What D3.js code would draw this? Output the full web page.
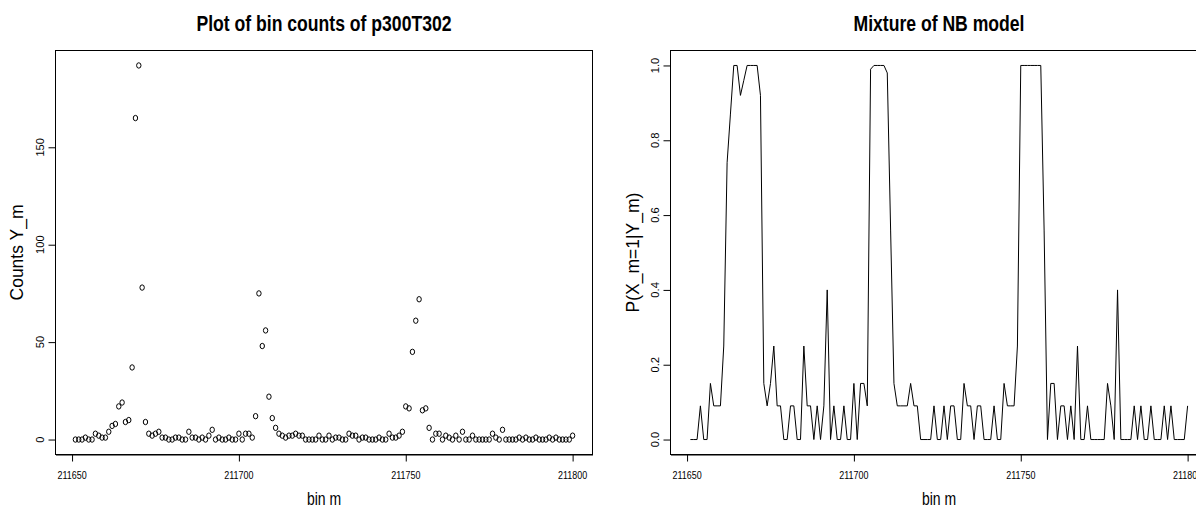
<!DOCTYPE html>
<html>
<head>
<meta charset="utf-8">
<script src="https://cdn.jsdelivr.net/npm/d3@7"></script>
<style>
  html, body { margin: 0; padding: 0; background: #fff; }
  svg { display: block; }
  text { font-family: "Liberation Sans", Arial, Helvetica, sans-serif; fill: #000; }
</style>
</head>
<body>
<svg id="chart" width="1196" height="507"></svg>
<script>
// ---------------- data ----------------
const binStart = 211651;            // first bin m
const xTicks = [211650, 211700, 211750, 211800];
const countTicks = [0, 50, 100, 150];
const probTicks = [0.0, 0.2, 0.4, 0.6, 0.8, 1.0];
const leftTitle = "Plot of bin counts of p300T302";
const rightTitle = "Mixture of NB model";
const xLabel = "bin m";
const leftYLabel = "Counts Y_m";
const rightYLabel = "P(X_m=1|Y_m)";

// bin counts Y_m (bins 211651 .. 211800)
const counts = [
  0, 0, 0, 1, 0, 0, 3, 2, 1, 1,
  4, 7, 8, 17, 19, 9, 10, 37, 165, 192,
  78, 9, 3, 2, 3, 4, 1, 1, 0, 0,
  1, 1, 0, 0, 4, 1, 1, 0, 1, 0,
  2, 5, 0, 1, 0, 0, 1, 0, 0, 3,
  0, 3, 3, 1, 12, 75, 48, 56, 22, 11,
  6, 3, 2, 1, 2, 2, 3, 2, 2, 0,
  0, 0, 0, 2, 0, 0, 2, 0, 1, 1,
  0, 0, 3, 2, 2, 0, 1, 1, 0, 0,
  0, 1, 0, 0, 3, 1, 1, 2, 4, 17,
  16, 45, 61, 72, 15, 16, 6, 0, 3, 3,
  0, 2, 1, 0, 2, 0, 4, 0, 0, 2,
  0, 0, 0, 0, 0, 3, 1, 0, 5, 0,
  0, 0, 0, 1, 0, 1, 0, 0, 1, 0,
  0, 0, 1, 0, 1, 0, 0, 0, 0, 2
];

// posterior P(X_m=1|Y_m) (bins 211651 .. 211800)
const posterior = [
  0, 0, 0, 0.09, 0, 0, 0.15, 0.09, 0.09, 0.09,
  0.25, 0.74, 0.87, 1, 1, 0.92, 0.96, 1, 1, 1,
  1, 0.92, 0.15, 0.09, 0.15, 0.25, 0.09, 0.09, 0, 0,
  0.09, 0.09, 0, 0, 0.25, 0.09, 0.09, 0, 0.09, 0,
  0.09, 0.40, 0, 0.09, 0, 0, 0.09, 0, 0, 0.15,
  0, 0.15, 0.15, 0.09, 0.99, 1, 1, 1, 1, 0.98,
  0.56, 0.15, 0.09, 0.09, 0.09, 0.09, 0.15, 0.09, 0.09, 0,
  0, 0, 0, 0.09, 0, 0, 0.09, 0, 0.09, 0.09,
  0, 0, 0.15, 0.09, 0.09, 0, 0.09, 0.09, 0, 0,
  0, 0.09, 0, 0, 0.15, 0.09, 0.09, 0.09, 0.25, 1,
  1, 1, 1, 1, 1, 1, 0.56, 0, 0.15, 0.15,
  0, 0.09, 0.09, 0, 0.09, 0, 0.25, 0, 0, 0.09,
  0, 0, 0, 0, 0, 0.15, 0.09, 0, 0.40, 0,
  0, 0, 0, 0.09, 0, 0.09, 0, 0, 0.09, 0,
  0, 0, 0.09, 0, 0.09, 0, 0, 0, 0, 0.09
];

// ---------------- drawing ----------------
const svg = d3.select("#chart");
const SX = 0.8;          // horizontal squeeze of the original rendering
const bins = counts.map((_, i) => binStart + i);

function rPad(ext) {     // R-style 4% axis extension
  const d = (ext[1] - ext[0]) * 0.04;
  return [ext[0] - d, ext[1] + d];
}

function hText(g, x, y, str, size, weight, anchor) {
  g.append("text")
    .attr("transform", `translate(${x},${y}) scale(${SX},1)`)
    .attr("text-anchor", anchor || "middle")
    .style("font-size", size + "px")
    .style("font-weight", weight || "normal")
    .text(str);
}
function vText(g, x, y, str, size) {
  g.append("text")
    .attr("transform", `translate(${x},${y}) rotate(-90) `)
    .attr("text-anchor", "middle")
    .attr("dominant-baseline", "central")
    .style("font-size", size + "px")
    .text(str);
}

function panel(opts) {
  const { left, right, top, bottom, yValues, yTicks, yFmt, title, yLabel, titleX, yLabelX, yTickX } = opts;
  const g = svg.append("g");
  const x = d3.scaleLinear().domain(rPad(d3.extent(bins))).range([left, right]);
  const y = d3.scaleLinear().domain(rPad(opts.yDomain)).range([bottom, top]);

  // x axis
  const xa = g.append("g").attr("transform", `translate(0,${bottom})`)
    .call(d3.axisBottom(x).tickValues(xTicks).tickSize(7).tickSizeOuter(0).tickFormat(d3.format("d")));
  xa.select(".domain").attr("stroke", "#000");
  xa.selectAll(".tick line").attr("stroke", "#000");
  xa.selectAll(".tick text").remove();
  xTicks.forEach(t => hText(g, x(t), 479, String(t), 11.2));

  // y axis
  const ya = g.append("g").attr("transform", `translate(${left},0)`)
    .call(d3.axisLeft(y).tickValues(yTicks).tickSize(7).tickSizeOuter(0));
  ya.select(".domain").remove();
  ya.selectAll(".tick line").attr("stroke", "#000");
  ya.selectAll(".tick text").remove();
  yTicks.forEach(t => vText(g, yTickX, y(t), yFmt(t), 11.2));

  // box
  g.append("rect").attr("x", left).attr("y", top)
    .attr("width", right - left).attr("height", bottom - top)
    .attr("fill", "none").attr("stroke", "#000").attr("stroke-width", 1);

  // labels
  hText(g, titleX, 31, title, 22, "bold");
  hText(g, titleX, 505, xLabel, 17.5);
  vText(g, yLabelX, (top + bottom) / 2, yLabel, 17.5);

  return { g, x, y };
}

// Left panel: scatter of counts
const L = panel({
  left: 55.5, right: 592.5, top: 50.5, bottom: 454.5,
  yDomain: [0, d3.max(counts)], yTicks: countTicks, yFmt: d3.format("d"),
  title: leftTitle, yLabel: leftYLabel, titleX: 324, yLabelX: 17, yTickX: 40
});
L.g.append("g").selectAll("ellipse").data(counts).join("ellipse")
  .attr("cx", (d, i) => L.x(bins[i]))
  .attr("cy", d => L.y(d))
  .attr("rx", 2.2).attr("ry", 2.7)
  .attr("fill", "none").attr("stroke", "#000").attr("stroke-width", 1);

// Right panel: posterior line
const R = panel({
  left: 670.5, right: 1207.5, top: 50.5, bottom: 454.5,
  yDomain: [0, 1], yTicks: probTicks, yFmt: d3.format(".1f"),
  title: rightTitle, yLabel: rightYLabel, titleX: 939, yLabelX: 633, yTickX: 654.5
});
R.g.append("path")
  .datum(posterior)
  .attr("d", d3.line().x((d, i) => R.x(bins[i])).y(d => R.y(d)))
  .attr("fill", "none").attr("stroke", "#000").attr("stroke-width", 1);
</script>
</body>
</html>
